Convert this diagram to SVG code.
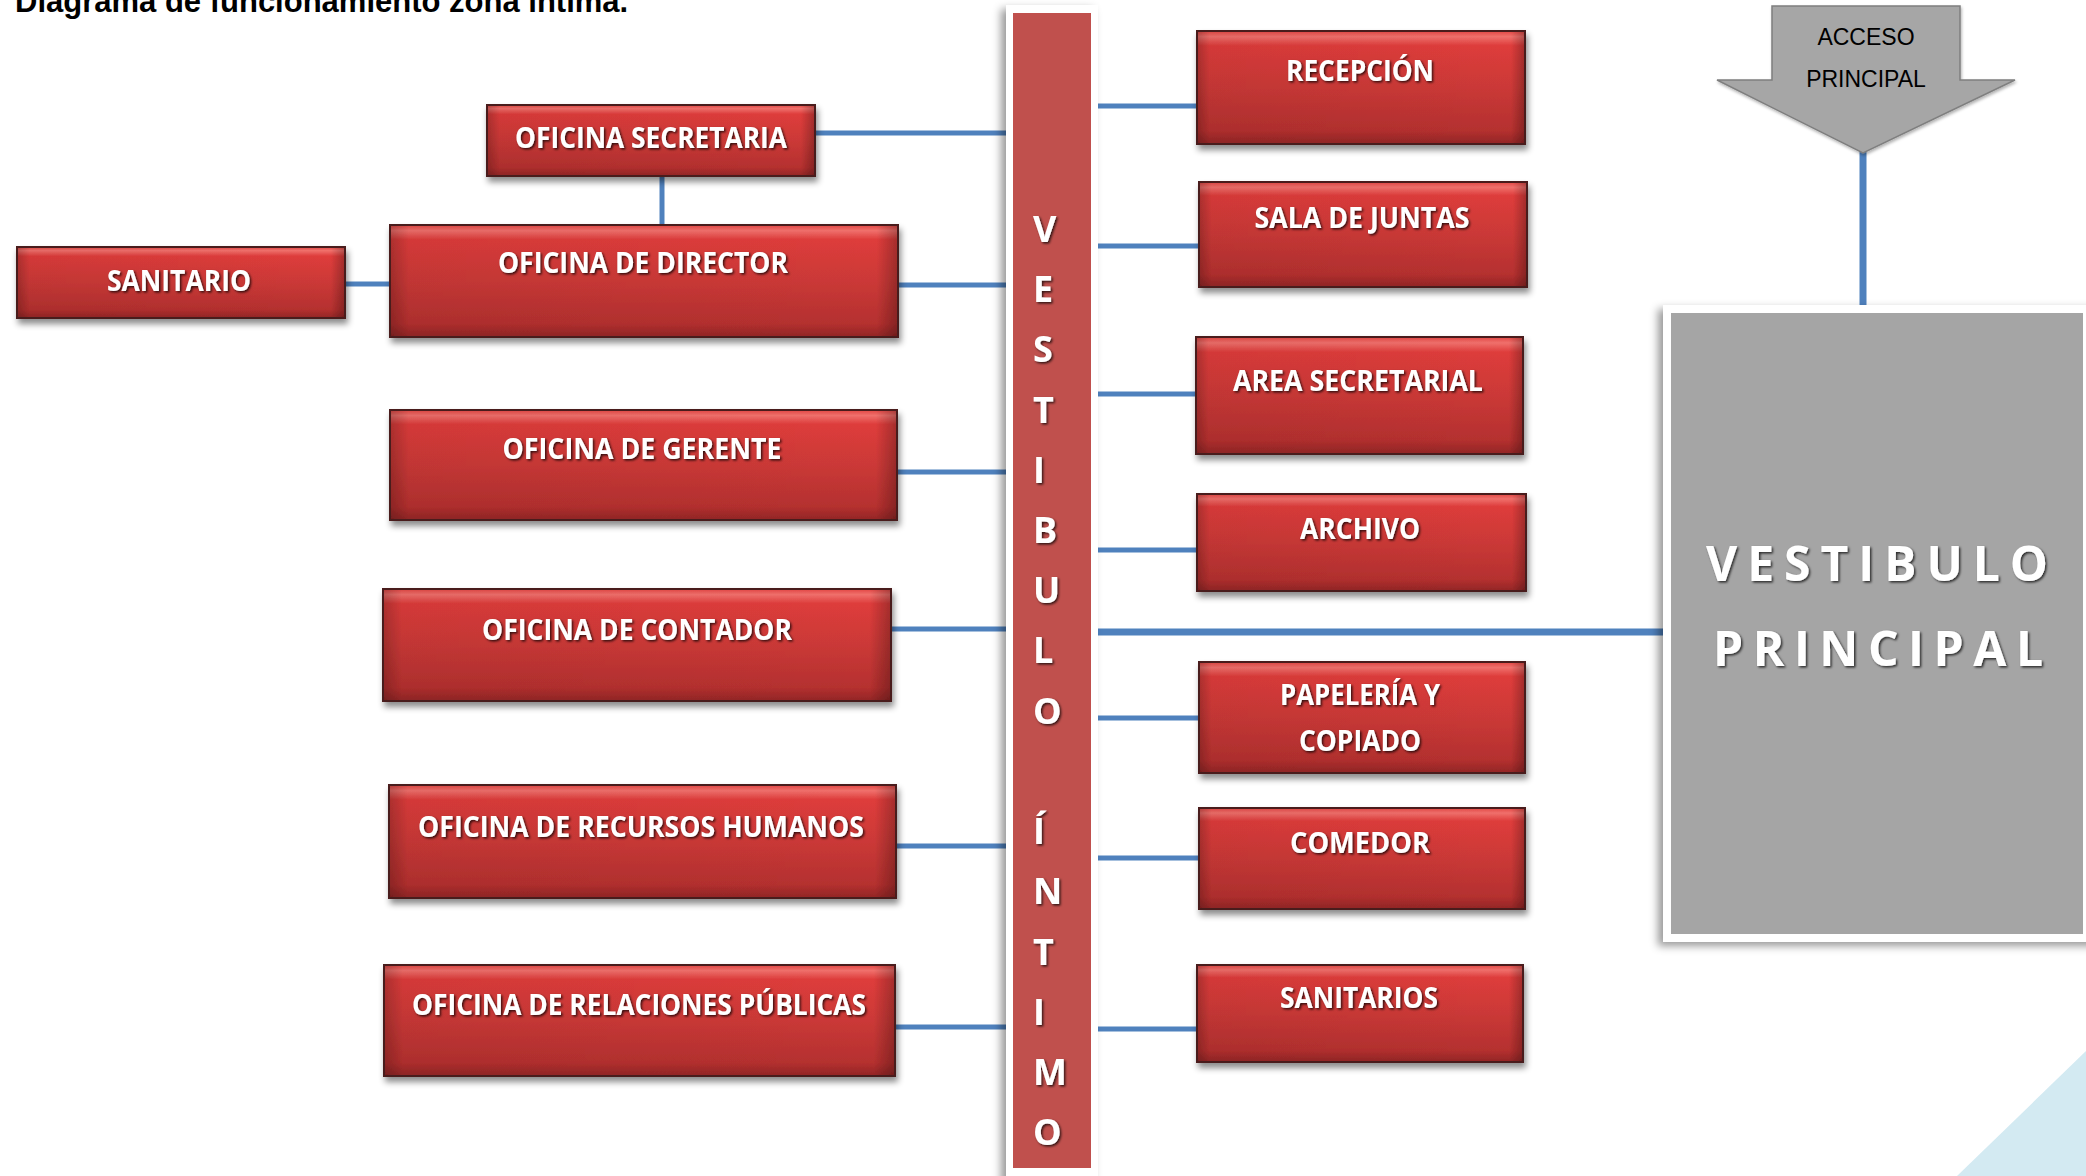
<svg xmlns="http://www.w3.org/2000/svg" width="2086" height="1176" viewBox="0 0 2086 1176">
  <defs>
    <linearGradient id="boxFill" x1="0" y1="0" x2="0" y2="1">
      <stop offset="0" stop-color="#E24643"/>
      <stop offset="0.05" stop-color="#F0706C"/>
      <stop offset="0.13" stop-color="#DE3C3B"/>
      <stop offset="0.5" stop-color="#CB3937"/>
      <stop offset="0.88" stop-color="#B5302F"/>
      <stop offset="1" stop-color="#922626"/>
    </linearGradient>
    <linearGradient id="boxEdge" x1="0" y1="0" x2="1" y2="0">
      <stop offset="0" stop-color="#000" stop-opacity="0.22"/>
      <stop offset="0.035" stop-color="#000" stop-opacity="0.05"/>
      <stop offset="0.96" stop-color="#000" stop-opacity="0"/>
      <stop offset="1" stop-color="#000" stop-opacity="0.25"/>
    </linearGradient>
    <filter id="boxShadow" x="-10%" y="-20%" width="125%" height="150%">
      <feDropShadow dx="2" dy="5" stdDeviation="3" flood-color="#000" flood-opacity="0.45"/>
    </filter>
    <filter id="textShadow" x="-10%" y="-30%" width="120%" height="160%">
      <feDropShadow dx="1.5" dy="1.5" stdDeviation="1.2" flood-color="#000" flood-opacity="0.75"/>
    </filter>
    <filter id="frameShadow" x="-20%" y="-5%" width="130%" height="110%">
      <feDropShadow dx="-5" dy="4" stdDeviation="4" flood-color="#000" flood-opacity="0.4"/>
    </filter>
    <filter id="arrowShadow" x="-10%" y="-10%" width="120%" height="130%">
      <feDropShadow dx="1" dy="2" stdDeviation="1.5" flood-color="#000" flood-opacity="0.3"/>
    </filter>
  </defs>
  <style>
    .box { fill: url(#boxFill); stroke: #4A1C1C; stroke-width: 2; }
    .edge { fill: url(#boxEdge); }
    .label { font-family: "Open Sans", "Liberation Sans", sans-serif; font-weight: 700; font-size: 29px; fill: #FFFFFF; text-anchor: middle; filter: url(#textShadow); }
    .link { stroke: #4F81BD; stroke-width: 5; fill: none; }
    .link-main { stroke: #4F81BD; stroke-width: 7; fill: none; }
    .strip-letter { font-family: "Open Sans", "Liberation Sans", sans-serif; font-weight: 700; font-size: 36px; fill: #FFFFFF; filter: url(#textShadow); }
    .big { font-family: "Open Sans", "Liberation Sans", sans-serif; font-weight: 700; font-size: 48px; fill: #FFFFFF; filter: url(#textShadow); }
    .access { font-family: "Liberation Sans", Arial, sans-serif; font-size: 23px; fill: #000000; text-anchor: middle; }
  </style>

  <rect width="2086" height="1176" fill="#FFFFFF"/>

  <!-- heading, clipped by the top edge -->
  <text x="15" y="12" font-family="Liberation Sans, Arial, sans-serif" font-weight="700" font-size="31" fill="#000000">Diagrama de funcionamiento zona íntima.</text>

  <!-- decorative corner -->
  <polygon points="1957,1176 2086,1051 2086,1176" fill="#D3EAF2"/>

  <!-- connectors -->
  <g id="connectors">
    <line class="link" x1="815" y1="133" x2="1006" y2="133"/>
    <line class="link" x1="662" y1="176" x2="662" y2="225"/>
    <line class="link" x1="345" y1="284" x2="390" y2="284"/>
    <line class="link" x1="898" y1="285" x2="1006" y2="285"/>
    <line class="link" x1="897" y1="472" x2="1006" y2="472"/>
    <line class="link" x1="891" y1="629" x2="1006" y2="629"/>
    <line class="link" x1="896" y1="846" x2="1006" y2="846"/>
    <line class="link" x1="895" y1="1027" x2="1006" y2="1027"/>
    <line class="link" x1="1098" y1="106" x2="1197" y2="106"/>
    <line class="link" x1="1098" y1="246" x2="1199" y2="246"/>
    <line class="link" x1="1098" y1="394" x2="1196" y2="394"/>
    <line class="link" x1="1098" y1="550" x2="1197" y2="550"/>
    <line class="link" x1="1098" y1="718" x2="1199" y2="718"/>
    <line class="link" x1="1098" y1="858" x2="1199" y2="858"/>
    <line class="link" x1="1098" y1="1029" x2="1197" y2="1029"/>
    <line class="link-main" x1="1098" y1="632" x2="1664" y2="632"/>
    <line class="link-main" x1="1863" y1="150" x2="1863" y2="309"/>
  </g>

  <!-- central corridor -->
  <g id="vestibulo-intimo">
    <rect x="1006" y="5" width="92" height="1180" fill="#FFFFFF" filter="url(#frameShadow)"/>
    <rect x="1013" y="13" width="78" height="1155" fill="#C0504D"/>
    <text class="strip-letter" x="1033" y="242">V</text>
    <text class="strip-letter" x="1033" y="302">E</text>
    <text class="strip-letter" x="1033" y="362">S</text>
    <text class="strip-letter" x="1033" y="423">T</text>
    <text class="strip-letter" x="1033" y="483">I</text>
    <text class="strip-letter" x="1033" y="543">B</text>
    <text class="strip-letter" x="1033" y="603">U</text>
    <text class="strip-letter" x="1033" y="663">L</text>
    <text class="strip-letter" x="1033" y="724">O</text>
    <text class="strip-letter" x="1033" y="844">Í</text>
    <text class="strip-letter" x="1033" y="904">N</text>
    <text class="strip-letter" x="1033" y="965">T</text>
    <text class="strip-letter" x="1033" y="1025">I</text>
    <text class="strip-letter" x="1033" y="1085">M</text>
    <text class="strip-letter" x="1033" y="1145">O</text>
  </g>

  <!-- main lobby -->
  <g id="vestibulo-principal">
    <rect x="1663" y="305" width="440" height="637" fill="#FFFFFF" filter="url(#frameShadow)"/>
    <rect x="1671" y="313" width="412" height="621" fill="#A5A5A5"/>
    <text class="big" x="1706" y="581" textLength="342" lengthAdjust="spacing">VESTIBULO</text>
    <text class="big" x="1713" y="666" textLength="330" lengthAdjust="spacing">PRINCIPAL</text>
  </g>

  <!-- entrance arrow -->
  <g id="acceso-principal">
    <polygon points="1772,6 1960,6 1960,80 2015,80 1863,153 1717,80 1772,80" fill="#A6A6A6" stroke="#7F7F7F" stroke-width="1.5" filter="url(#arrowShadow)"/>
    <text class="access" x="1866" y="45">ACCESO</text>
    <text class="access" x="1866" y="87">PRINCIPAL</text>
  </g>

  <!-- left wing -->
  <g id="oficina-secretaria" filter="url(#boxShadow)">
    <rect class="box" x="487" y="105" width="328" height="71"/>
    <rect class="edge" x="488" y="106" width="326" height="69"/>
    <text class="label" x="651" y="148" textLength="272" lengthAdjust="spacingAndGlyphs">OFICINA SECRETARIA</text>
  </g>
  <g id="oficina-director" filter="url(#boxShadow)">
    <rect class="box" x="390" y="225" width="508" height="112"/>
    <rect class="edge" x="391" y="226" width="506" height="110"/>
    <text class="label" x="643" y="273" textLength="290" lengthAdjust="spacingAndGlyphs">OFICINA DE DIRECTOR</text>
  </g>
  <g id="sanitario" filter="url(#boxShadow)">
    <rect class="box" x="17" y="247" width="328" height="71"/>
    <rect class="edge" x="18" y="248" width="326" height="69"/>
    <text class="label" x="179" y="291" textLength="144" lengthAdjust="spacingAndGlyphs">SANITARIO</text>
  </g>
  <g id="oficina-gerente" filter="url(#boxShadow)">
    <rect class="box" x="390" y="410" width="507" height="110"/>
    <rect class="edge" x="391" y="411" width="505" height="108"/>
    <text class="label" x="642" y="459" textLength="279" lengthAdjust="spacingAndGlyphs">OFICINA DE GERENTE</text>
  </g>
  <g id="oficina-contador" filter="url(#boxShadow)">
    <rect class="box" x="383" y="589" width="508" height="112"/>
    <rect class="edge" x="384" y="590" width="506" height="110"/>
    <text class="label" x="637" y="640" textLength="310" lengthAdjust="spacingAndGlyphs">OFICINA DE CONTADOR</text>
  </g>
  <g id="oficina-recursos-humanos" filter="url(#boxShadow)">
    <rect class="box" x="389" y="785" width="507" height="113"/>
    <rect class="edge" x="390" y="786" width="505" height="111"/>
    <text class="label" x="641" y="837" textLength="446" lengthAdjust="spacingAndGlyphs">OFICINA DE RECURSOS HUMANOS</text>
  </g>
  <g id="oficina-relaciones-publicas" filter="url(#boxShadow)">
    <rect class="box" x="384" y="965" width="511" height="111"/>
    <rect class="edge" x="385" y="966" width="509" height="109"/>
    <text class="label" x="639" y="1015" textLength="454" lengthAdjust="spacingAndGlyphs">OFICINA DE RELACIONES PÚBLICAS</text>
  </g>

  <!-- right wing -->
  <g id="recepcion" filter="url(#boxShadow)">
    <rect class="box" x="1197" y="31" width="328" height="113"/>
    <rect class="edge" x="1198" y="32" width="326" height="111"/>
    <text class="label" x="1360" y="81" textLength="148" lengthAdjust="spacingAndGlyphs">RECEPCIÓN</text>
  </g>
  <g id="sala-de-juntas" filter="url(#boxShadow)">
    <rect class="box" x="1199" y="182" width="328" height="105"/>
    <rect class="edge" x="1200" y="183" width="326" height="103"/>
    <text class="label" x="1362" y="228" textLength="215" lengthAdjust="spacingAndGlyphs">SALA DE JUNTAS</text>
  </g>
  <g id="area-secretarial" filter="url(#boxShadow)">
    <rect class="box" x="1196" y="337" width="327" height="117"/>
    <rect class="edge" x="1197" y="338" width="325" height="115"/>
    <text class="label" x="1358" y="391" textLength="250" lengthAdjust="spacingAndGlyphs">AREA SECRETARIAL</text>
  </g>
  <g id="archivo" filter="url(#boxShadow)">
    <rect class="box" x="1197" y="494" width="329" height="97"/>
    <rect class="edge" x="1198" y="495" width="327" height="95"/>
    <text class="label" x="1360" y="539" textLength="120" lengthAdjust="spacingAndGlyphs">ARCHIVO</text>
  </g>
  <g id="papeleria-copiado" filter="url(#boxShadow)">
    <rect class="box" x="1199" y="662" width="326" height="111"/>
    <rect class="edge" x="1200" y="663" width="324" height="109"/>
    <text class="label" x="1360" y="705" textLength="160" lengthAdjust="spacingAndGlyphs">PAPELERÍA Y</text>
    <text class="label" x="1360" y="751" textLength="122" lengthAdjust="spacingAndGlyphs">COPIADO</text>
  </g>
  <g id="comedor" filter="url(#boxShadow)">
    <rect class="box" x="1199" y="808" width="326" height="101"/>
    <rect class="edge" x="1200" y="809" width="324" height="99"/>
    <text class="label" x="1360" y="853" textLength="140" lengthAdjust="spacingAndGlyphs">COMEDOR</text>
  </g>
  <g id="sanitarios" filter="url(#boxShadow)">
    <rect class="box" x="1197" y="965" width="326" height="97"/>
    <rect class="edge" x="1198" y="966" width="324" height="95"/>
    <text class="label" x="1359" y="1008" textLength="158" lengthAdjust="spacingAndGlyphs">SANITARIOS</text>
  </g>
</svg>
